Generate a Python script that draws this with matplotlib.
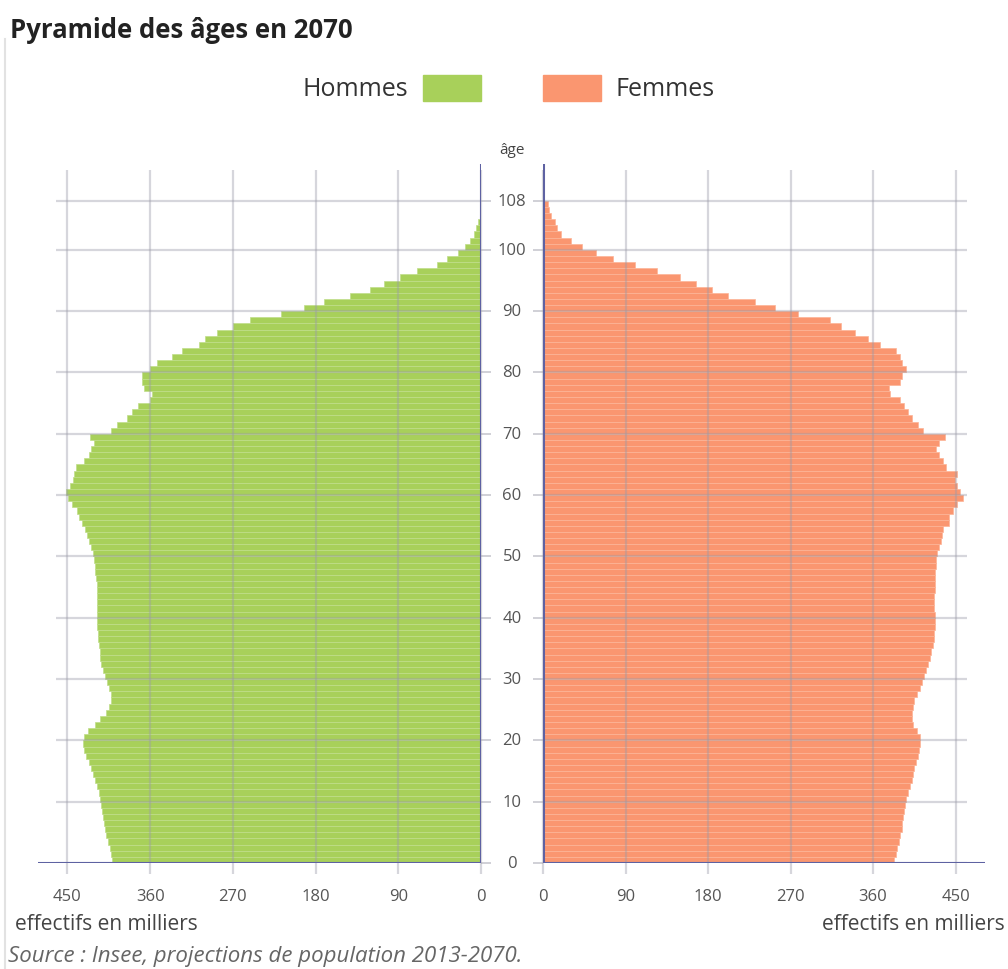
import matplotlib
matplotlib.use("Agg")
import matplotlib.pyplot as plt
from matplotlib.patches import Rectangle
from matplotlib.lines import Line2D
from matplotlib.transforms import blended_transform_factory

plt.rcParams['font.family'] = ['Open Sans', 'DejaVu Sans']

# effectifs en milliers, par age (0 a 107)
hommes = [401, 403, 404, 406, 408, 409, 410, 411, 412, 413,
          414, 416, 418, 420, 422, 424, 427, 430, 432, 433,
          432, 428, 420, 414, 408, 405, 403, 403, 405, 407,
          409, 411, 413, 414, 415, 416, 417, 417, 418, 418,
          418, 418, 418, 418, 418, 418, 419, 420, 420, 421,
          422, 424, 426, 429, 431, 434, 437, 440, 445, 449,
          452, 447, 444, 443, 441, 432, 427, 424, 421, 425,
          403, 396, 385, 380, 373, 360, 358, 367, 369, 369,
          360, 352, 336, 325, 307, 300, 287, 270, 251, 218,
          193, 171, 142, 121, 106, 88, 70, 48, 37, 25,
          17, 12, 8, 5, 3, 1.5, 0.8, 0.3]
femmes = [383, 385, 386, 388, 389, 391, 392, 393, 394, 395,
          396, 398, 400, 402, 403, 405, 407, 409, 410, 411,
          411, 408, 404, 402, 402, 403, 405, 408, 411, 413,
          416, 418, 420, 422, 423, 425, 426, 426, 427, 427,
          427, 426, 426, 426, 427, 427, 428, 428, 429, 429,
          430, 432, 434, 435, 436, 443, 443, 447, 451, 458,
          455, 452, 449, 451, 440, 436, 432, 429, 432, 438,
          414, 409, 402, 398, 394, 389, 378, 377, 389, 392,
          396, 392, 389, 385, 368, 354, 340, 325, 313, 278,
          253, 231, 202, 184, 167, 149, 124, 100, 76, 58,
          42, 31, 20, 15, 13, 9, 7, 5]
ages = list(range(len(hommes)))

age_ticks = [0, 10, 20, 30, 40, 50, 60, 70, 80, 90, 100, 108]
x_ticks = [0, 90, 180, 270, 360, 450]

green = '#a8d05a'
orange = '#fa9670'
axis_col = '#5e62a2'
grid_col = '#9a9aa8'

fig = plt.figure(figsize=(10.08, 9.70), dpi=100)
ax1 = fig.add_axes([38/1008, 1-864/970, 443/1008, 699/970])
ax2 = fig.add_axes([543/1008, 1-864/970, 442/1008, 699/970])

ax1.barh(ages, hommes, height=1, align='edge', color=green,
         edgecolor='#bfdd8a', linewidth=0.5, zorder=2)
ax2.barh(ages, femmes, height=1, align='edge', color=orange,
         edgecolor='#fcb497', linewidth=0.5, zorder=2)

for ax in (ax1, ax2):
    ax.set_xlim(0, 482)
    ax.set_ylim(0, 114)
    for s in ax.spines.values():
        s.set_visible(False)
    ax.hlines(age_ticks, 0, 462, color=grid_col, lw=1.6, alpha=0.4, zorder=3)
    ax.vlines(x_ticks, -1.8, 113, color=grid_col, lw=1.6, alpha=0.4, zorder=3,
              clip_on=False)
    ax.set_xticks(x_ticks)
    ax.set_xticklabels([str(t) for t in x_ticks], fontsize=12, color='#555555')
    ax.tick_params(axis='x', length=0, pad=18)
    ax.set_yticks(age_ticks)
    ax.tick_params(axis='y', length=7, width=1.2, color='#c8c8d0', labelleft=False,
                   labelright=False)
    ax.axhline(0, color=axis_col, lw=2.2, zorder=4)

ax1.invert_xaxis()
ax1.yaxis.tick_right()
ax1.tick_params(axis='y', labelright=False)
ax1.axvline(0, ymin=0, ymax=1, color=axis_col, lw=2.2, zorder=4)
ax2.axvline(0, ymin=0, ymax=1, color=axis_col, lw=2.2, zorder=4)

# ages au centre
tr = blended_transform_factory(fig.transFigure, ax2.transData)
for a in age_ticks:
    ax2.text(512/1008, a, str(a), transform=tr, ha='center', va='center',
             fontsize=12, color='#555555')
fig.text(512/1008, 1-150/970, 'âge', ha='center', va='center', fontsize=11,
         color='#444444')

# titre et legende
fig.text(10/1008, 1-30/970, 'Pyramide des âges en 2070', fontsize=18.5,
         fontweight='bold', color='#222222', va='center', ha='left')
fig.text(408/1008, 1-89/970, 'Hommes', fontsize=18, color='#333333',
         ha='right', va='center')
fig.patches.append(Rectangle((423/1008, 1-102/970), 58/1008, 26/970,
                             transform=fig.transFigure, color=green))
fig.patches.append(Rectangle((543/1008, 1-102/970), 58/1008, 26/970,
                             transform=fig.transFigure, color=orange))
fig.text(615/1008, 1-89/970, 'Femmes', fontsize=18, color='#333333',
         ha='left', va='center')

fig.text(15/1008, 1-925/970, 'effectifs en milliers', fontsize=15,
         color='#444444', ha='left', va='center')
fig.text(1005/1008, 1-925/970, 'effectifs en milliers', fontsize=15,
         color='#444444', ha='right', va='center')
fig.text(8/1008, 1-957/970, 'Source : Insee, projections de population 2013-2070.',
         fontsize=16, style='italic', color='#666666', ha='left', va='center')

fig.lines.append(Line2D([5/1008, 5/1008], [0, 1-40/970], transform=fig.transFigure,
                        color='#e2e2e2', lw=1.5))

fig.savefig('out.png', dpi=100)
